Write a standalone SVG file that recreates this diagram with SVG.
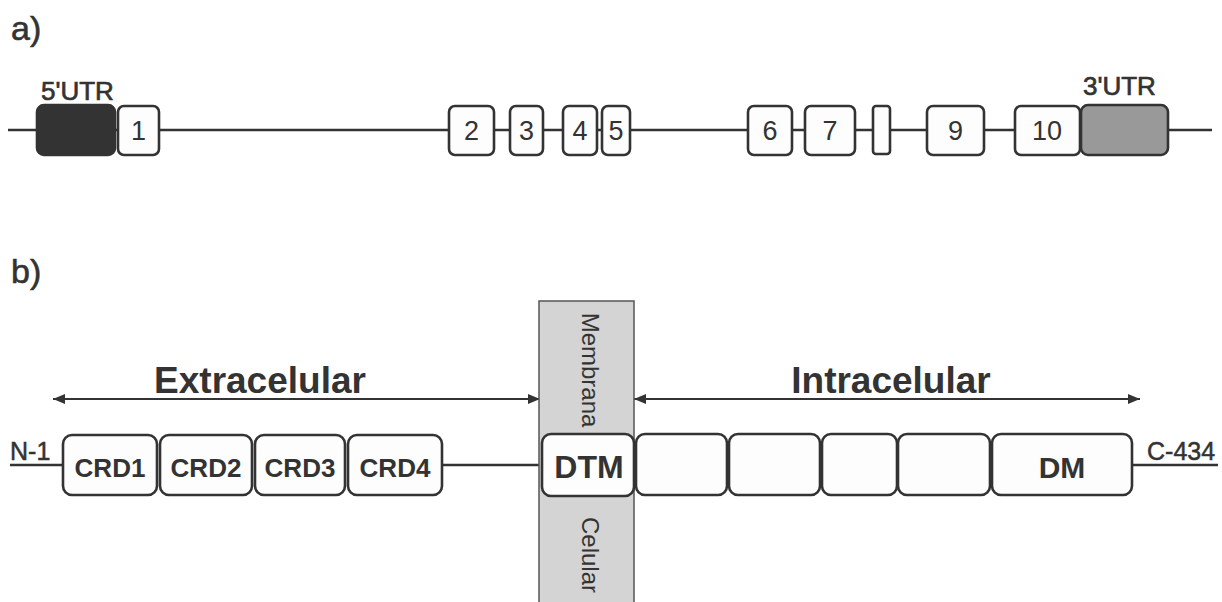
<svg xmlns="http://www.w3.org/2000/svg" width="1222" height="602" viewBox="0 0 1222 602">
<defs>
<style>
.bx{fill:#fdfdfd;stroke:#333;stroke-width:2.6}
.ln{stroke:#333;stroke-width:2.6;fill:none}
.num{font-family:"Liberation Sans",Arial,sans-serif;font-size:27px;fill:#333;text-anchor:middle}
.lbl{font-family:"Liberation Sans",Arial,sans-serif;font-size:26px;fill:#333;stroke:#333;stroke-width:0.7}
.big{font-family:"Liberation Sans",Arial,sans-serif;font-size:34px;fill:#333;stroke:#333;stroke-width:0.6}
.hd{font-family:"Liberation Sans",Arial,sans-serif;font-size:37px;fill:#333;font-weight:bold;text-anchor:middle}
.dom{font-family:"Liberation Sans",Arial,sans-serif;font-size:26px;fill:#333;font-weight:bold;text-anchor:middle}
.term{font-family:"Liberation Sans",Arial,sans-serif;font-size:25px;fill:#333;stroke:#333;stroke-width:0.5}
.mem{font-family:"Liberation Sans",Arial,sans-serif;font-size:24px;fill:#333;text-anchor:middle}
</style>
<marker id="ah" viewBox="0 0 12 10" refX="12" refY="5" markerWidth="12" markerHeight="10" markerUnits="userSpaceOnUse" orient="auto-start-reverse">
<path d="M0,0 L12,5 L0,10 Z" fill="#333"/>
</marker>
</defs>
<rect width="1222" height="602" fill="#fff"/>
<text class="big" x="11" y="40">a)</text>
<text class="big" x="11" y="283">b)</text>

<g id="connectors">
<line class="ln" x1="8" y1="130" x2="1212" y2="130"/>
<line class="ln" x1="10" y1="465" x2="63" y2="465"/>
<line class="ln" x1="442" y1="465" x2="540" y2="465"/>
<line class="ln" x1="1132" y1="465" x2="1218" y2="465"/>
<line x1="53" y1="399" x2="540" y2="399" stroke="#333" stroke-width="2" marker-start="url(#ah)" marker-end="url(#ah)"/>
<line x1="634" y1="399" x2="1140" y2="399" stroke="#333" stroke-width="2" marker-start="url(#ah)" marker-end="url(#ah)"/>
</g>

<g id="utr5">
<rect x="37" y="105" width="78" height="50" rx="7" fill="#333" stroke="#333" stroke-width="2.6"/>
<text class="lbl" x="41" y="100">5'UTR</text>
</g>
<g id="exon1"><rect class="bx" x="118" y="106" width="41" height="49" rx="6"/><text class="num" x="138.5" y="140">1</text></g>
<g id="exon2"><rect class="bx" x="449" y="106" width="45" height="49" rx="6"/><text class="num" x="471.5" y="140">2</text></g>
<g id="exon3"><rect class="bx" x="510" y="106" width="33" height="49" rx="6"/><text class="num" x="526.5" y="140">3</text></g>
<g id="exon4"><rect class="bx" x="563" y="106" width="34" height="49" rx="6"/><text class="num" x="580" y="140">4</text></g>
<g id="exon5"><rect class="bx" x="602" y="106" width="28" height="49" rx="6"/><text class="num" x="616" y="140">5</text></g>
<g id="exon6"><rect class="bx" x="748" y="106" width="44" height="49" rx="6"/><text class="num" x="770" y="140">6</text></g>
<g id="exon7"><rect class="bx" x="805" y="106" width="50" height="49" rx="6"/><text class="num" x="830" y="140">7</text></g>
<g id="exon8"><rect class="bx" x="873" y="106" width="17" height="48" rx="3"/></g>
<g id="exon9"><rect class="bx" x="927" y="106" width="57" height="49" rx="6"/><text class="num" x="955.5" y="140">9</text></g>
<g id="exon10"><rect class="bx" x="1015" y="106" width="65" height="49" rx="6"/><text class="num" x="1047" y="140">10</text></g>
<g id="utr3">
<rect x="1081" y="105" width="87" height="50" rx="7" fill="#999" stroke="#333" stroke-width="2.6"/>
<text class="lbl" x="1083" y="95">3'UTR</text>
</g>

<g id="membrane">
<rect x="539" y="301" width="95" height="310" fill="#d4d4d4" stroke="#555" stroke-width="1.5"/>
<text class="mem" transform="translate(582,370) rotate(90)">Membrana</text>
<text class="mem" transform="translate(582,555) rotate(90)">Celular</text>
</g>

<text class="hd" x="260" y="393">Extracelular</text>
<text class="hd" x="891" y="393">Intracelular</text>

<g id="nterm"><text class="term" x="10" y="460">N-1</text></g>
<g id="crd1"><rect class="bx" x="63" y="435" width="94" height="60" rx="9"/><text class="dom" x="110" y="477">CRD1</text></g>
<g id="crd2"><rect class="bx" x="160" y="435" width="92" height="60" rx="9"/><text class="dom" x="206" y="477">CRD2</text></g>
<g id="crd3"><rect class="bx" x="255" y="435" width="90" height="60" rx="9"/><text class="dom" x="300" y="477">CRD3</text></g>
<g id="crd4"><rect class="bx" x="348" y="435" width="94" height="60" rx="9"/><text class="dom" x="395" y="477">CRD4</text></g>
<g id="dtm"><rect class="bx" x="542" y="434" width="92" height="62" rx="9"/><text class="dom" x="589" y="478" style="font-size:32px">DTM</text></g>
<g id="d2"><rect class="bx" x="636" y="434" width="91" height="61" rx="9"/></g>
<g id="d3"><rect class="bx" x="729" y="434" width="91" height="61" rx="9"/></g>
<g id="d4"><rect class="bx" x="822" y="434" width="75" height="61" rx="9"/></g>
<g id="d5"><rect class="bx" x="898" y="434" width="92" height="61" rx="9"/></g>
<g id="dm"><rect class="bx" x="992" y="434" width="140" height="61" rx="9"/><text class="dom" x="1062" y="478" style="font-size:30px">DM</text></g>
<g id="cterm"><text class="term" x="1147" y="460">C-434</text></g>
</svg>
